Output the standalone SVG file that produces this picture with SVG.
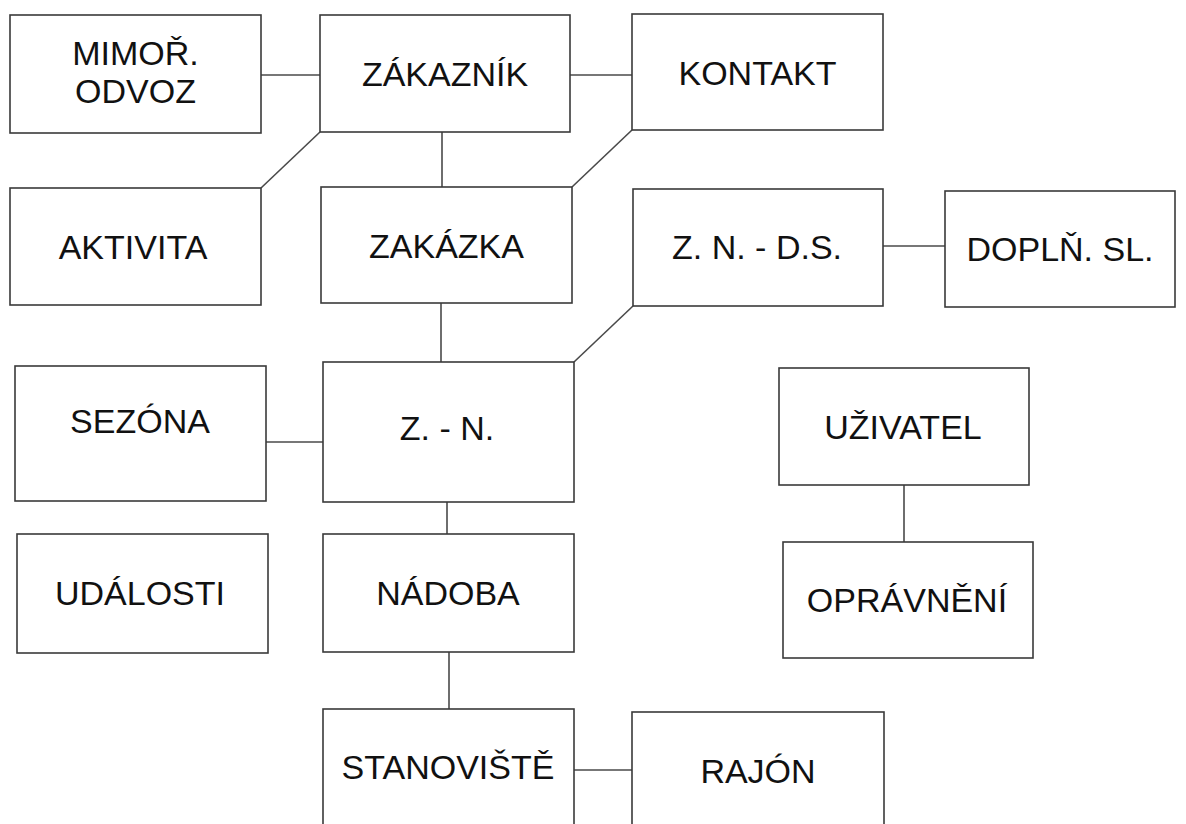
<svg xmlns="http://www.w3.org/2000/svg" width="1186" height="824" viewBox="0 0 1186 824">
  <style>
    .box { fill: #ffffff; stroke: #3a3a3a; stroke-width: 1.6; }
    .lbl { font-family: "Liberation Sans", Arial, sans-serif; font-size: 34px; fill: #111111; text-anchor: middle; }
    .conn line { stroke: #4a4a4a; stroke-width: 1.6; fill: none; }
  </style>
  <rect width="1186" height="824" fill="#ffffff"/>

  <!-- connectors -->
  <g id="connectors" class="conn">
    <line x1="261" y1="75" x2="320" y2="75"/>
    <line x1="570" y1="75" x2="632" y2="75"/>
    <line x1="442" y1="132" x2="442" y2="187"/>
    <line x1="320" y1="132" x2="261" y2="188"/>
    <line x1="632" y1="130" x2="572" y2="187"/>
    <line x1="441" y1="303" x2="441" y2="362"/>
    <line x1="633" y1="306" x2="574" y2="362"/>
    <line x1="883" y1="246" x2="945" y2="246"/>
    <line x1="266" y1="442" x2="323" y2="442"/>
    <line x1="447" y1="502" x2="447" y2="534"/>
    <line x1="449" y1="652" x2="449" y2="709"/>
    <line x1="574" y1="770" x2="632" y2="770"/>
    <line x1="904" y1="485" x2="904" y2="542"/>
  </g>

  <!-- entities -->
  <g id="mimor-odvoz">
    <rect class="box" x="10" y="15" width="251" height="118"/>
    <text class="lbl" x="135.5" y="65">MIMOŘ.</text>
    <text class="lbl" x="135.5" y="103">ODVOZ</text>
  </g>
  <g id="zakaznik">
    <rect class="box" x="320" y="15" width="250" height="117"/>
    <text class="lbl" x="445" y="86">ZÁKAZNÍK</text>
  </g>
  <g id="kontakt">
    <rect class="box" x="632" y="14" width="251" height="116"/>
    <text class="lbl" x="757.5" y="85">KONTAKT</text>
  </g>
  <g id="aktivita">
    <rect class="box" x="10" y="188" width="251" height="117"/>
    <text class="lbl" x="133" y="259">AKTIVITA</text>
  </g>
  <g id="zakazka">
    <rect class="box" x="321" y="187" width="251" height="116"/>
    <text class="lbl" x="446.5" y="258">ZAKÁZKA</text>
  </g>
  <g id="zn-ds">
    <rect class="box" x="633" y="189" width="250" height="117"/>
    <text class="lbl" x="757" y="259">Z. N. - D.S.</text>
  </g>
  <g id="dopln-sl">
    <rect class="box" x="945" y="191" width="230" height="116"/>
    <text class="lbl" x="1060" y="261">DOPLŇ. SL.</text>
  </g>
  <g id="sezona">
    <rect class="box" x="15" y="366" width="251" height="135"/>
    <text class="lbl" x="140" y="433">SEZÓNA</text>
  </g>
  <g id="z-n">
    <rect class="box" x="323" y="362" width="251" height="140"/>
    <text class="lbl" x="447" y="440">Z. - N.</text>
  </g>
  <g id="uzivatel">
    <rect class="box" x="779" y="368" width="250" height="117"/>
    <text class="lbl" x="903" y="439">UŽIVATEL</text>
  </g>
  <g id="udalosti">
    <rect class="box" x="17" y="534" width="251" height="119"/>
    <text class="lbl" x="140" y="605">UDÁLOSTI</text>
  </g>
  <g id="nadoba">
    <rect class="box" x="323" y="534" width="251" height="118"/>
    <text class="lbl" x="448" y="605">NÁDOBA</text>
  </g>
  <g id="opravneni">
    <rect class="box" x="783" y="542" width="250" height="116"/>
    <text class="lbl" x="907" y="612">OPRÁVNĚNÍ</text>
  </g>
  <g id="stanoviste">
    <rect class="box" x="323" y="709" width="251" height="130"/>
    <text class="lbl" x="448" y="779">STANOVIŠTĚ</text>
  </g>
  <g id="rajon">
    <rect class="box" x="632" y="712" width="252" height="130"/>
    <text class="lbl" x="758" y="783">RAJÓN</text>
  </g>
</svg>
